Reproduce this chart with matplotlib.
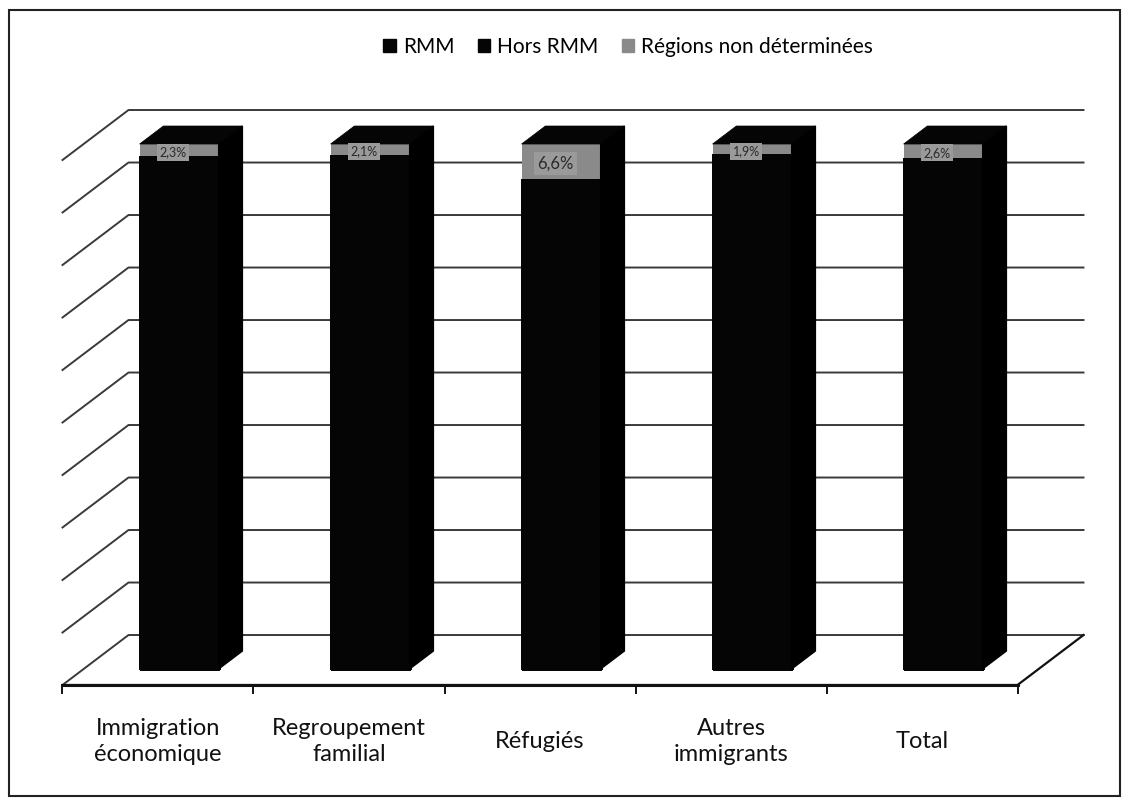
import matplotlib
matplotlib.use("Agg")
import matplotlib.pyplot as plt
from matplotlib.patches import Polygon, Rectangle, Patch
import numpy as np

# Data (percent of each category, 100% stacked)
categories = ["Immigration\néconomique", "Regroupement\nfamilial", "Réfugiés",
              "Autres\nimmigrants", "Total"]
series_names = ["RMM", "Hors RMM", "Régions non déterminées"]
rmm = [74.5, 79.0, 81.0, 70.5, 76.0]
hors_rmm = [23.2, 18.9, 12.4, 27.6, 21.4]
non_det = [2.3, 2.1, 6.6, 1.9, 2.6]
non_det_labels = ["2,3%", "2,1%", "6,6%", "1,9%", "2,6%"]

colors = ["#050505", "#050505", "#8a8a8a"]
plt.rcParams['font.family'] = ['Lato', 'DejaVu Sans']

# pseudo 3D projection: depth z in [0, 1] moves points right and up
DX, DY = 0.3455, 9.52
ZF, ZB = 0.32, 0.68   # bar front / back depth
W = 0.414


def proj(x, y, z):
    return (x + z * DX, y + z * DY)


fig = plt.figure(figsize=(11.3, 8.05), dpi=100)
ax = fig.add_axes([0, 0, 1, 1])
ax.set_xlim(-158 / 191, (1130 - 158) / 191)
ax.set_ylim((685 - 805) / 5.25, 685 / 5.25)
ax.axis("off")

x_left, x_right = -0.5, len(categories) - 0.5
grid_col = "#3a3a3a"

# side wall + back wall gridlines
for lvl in np.arange(0, 101, 10):
    pts = [proj(x_left, lvl, 0), proj(x_left, lvl, 1), proj(x_right, lvl, 1)]
    ax.plot([p[0] for p in pts], [p[1] for p in pts], color=grid_col, lw=1.4, zorder=1)

# floor
floor = [proj(x_left, 0, 0), proj(x_right, 0, 0), proj(x_right, 0, 1)]
ax.plot([p[0] for p in floor], [p[1] for p in floor], color="#111111", lw=1.6, zorder=1)
ax.plot([x_left, x_right], [0, 0], color="#111111", lw=2.2, zorder=2)
for k in range(len(categories) + 1):
    ax.plot([x_left + k, x_left + k], [0, -1.6], color="#111111", lw=1.4, zorder=2)

# stacked bars
data = [rmm, hors_rmm, non_det]
x = np.arange(len(categories))
bottom = np.zeros(len(categories))
for s, vals in enumerate(data):
    vals = np.array(vals)
    fx, fy = proj(x, bottom, ZF)
    black = s < 2
    ax.bar(fx, vals, width=W, bottom=fy, color=colors[s], edgecolor=colors[s],
           linewidth=1.0 if black else 0, antialiased=not black, zorder=3)
    for i in range(len(categories)):
        xr = x[i] + W / 2
        side = [proj(xr, bottom[i], ZF), proj(xr, bottom[i] + vals[i], ZF),
                proj(xr, bottom[i] + vals[i], ZB), proj(xr, bottom[i], ZB)]
        ax.add_patch(Polygon(side, closed=True, facecolor="#000000",
                             edgecolor="#000000", lw=1.0, zorder=3.5))
    bottom = bottom + vals

# top faces
for i in range(len(categories)):
    xl, xr = x[i] - W / 2, x[i] + W / 2
    top = [proj(xl, bottom[i], ZF), proj(xr, bottom[i], ZF),
           proj(xr, bottom[i], ZB), proj(xl, bottom[i], ZB)]
    ax.add_patch(Polygon(top, closed=True, facecolor="#050505",
                         edgecolor="#000000", lw=0.5, zorder=4))

# labels of the undetermined share
for i in range(len(categories)):
    lx, ly = proj(x[i], bottom[i] - non_det[i] / 2 - 0.4, ZF)
    ax.text(lx - 0.03, ly, non_det_labels[i], ha="center", va="center",
            fontsize=9 if non_det[i] < 5 else 12, color="#2a2a2a", zorder=5,
            bbox=dict(boxstyle="square,pad=0.2", facecolor="#9a9a9a",
                      edgecolor="none"))

# category labels
for i, cat in enumerate(categories):
    ax.text(x[i], -10.8, cat, ha="center", va="center", fontsize=17,
            linespacing=1.3, color="#111111")

# legend
handles = [Patch(facecolor=colors[k], edgecolor=colors[k]) for k in range(3)]
fig.legend(handles, series_names, loc="center", bbox_to_anchor=(0.556, 0.9416),
           ncol=3, frameon=False, fontsize=15, handlelength=0.6,
           handleheight=0.6, handletextpad=0.35, columnspacing=1.1)

# outer frame
fig.patches.append(Rectangle((9 / 1130, 1 - 796 / 805), 1111 / 1130, 786 / 805,
                             transform=fig.transFigure, fill=False,
                             edgecolor="#222222", lw=1.5))

fig.savefig("out.png", dpi=100)
